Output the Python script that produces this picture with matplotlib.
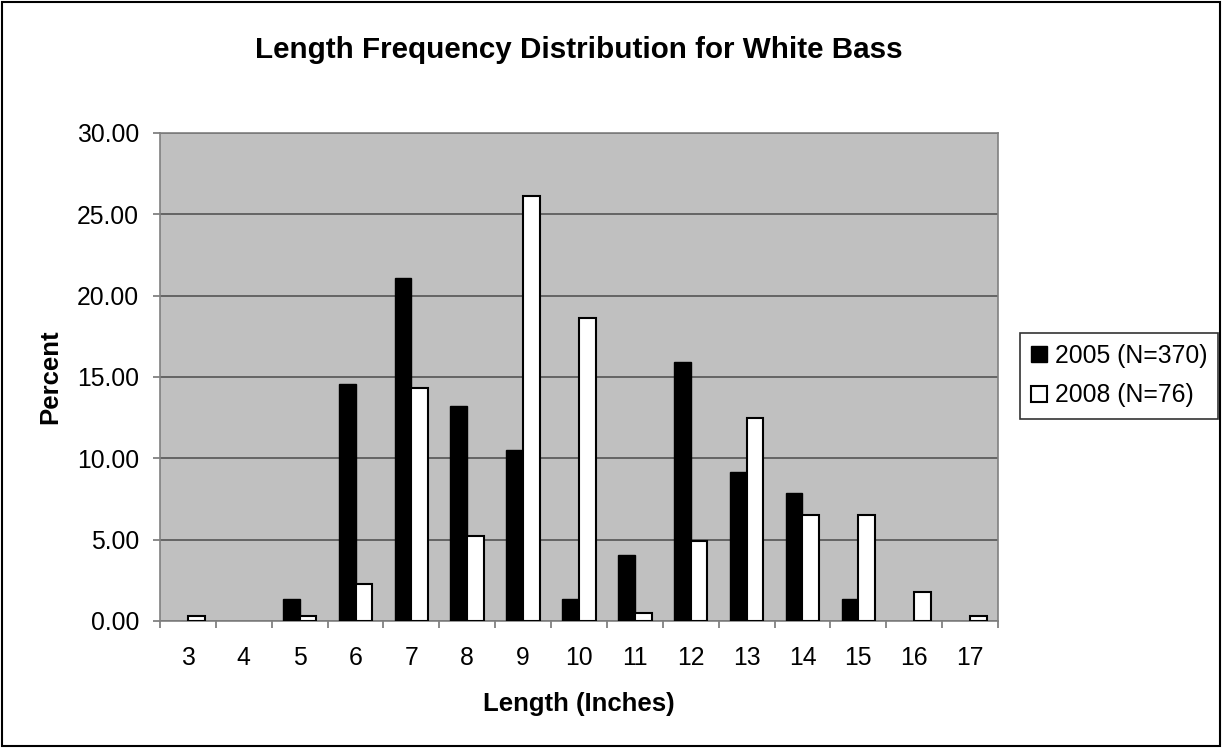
import numpy as np
import matplotlib
matplotlib.use("Agg")
import matplotlib.pyplot as plt
from matplotlib.patches import Rectangle

plt.rcParams['font.family'] = ['Liberation Sans', 'DejaVu Sans']

lengths = [3, 4, 5, 6, 7, 8, 9, 10, 11, 12, 13, 14, 15, 16, 17]
pct_2005 = [0.0, 0.0, 1.35, 14.59, 21.08, 13.24, 10.54, 1.35, 4.05, 15.95, 9.19, 7.84, 1.35, 0.0, 0.0]
pct_2008 = [0.3, 0.0, 0.3, 2.28, 14.3, 5.2, 26.1, 18.6, 0.5, 4.9, 12.5, 6.5, 6.5, 1.8, 0.3]
labels = ['2005 (N=370)', '2008 (N=76)']

fig = plt.figure(figsize=(12.22, 7.48), dpi=100)
ax = fig.add_axes([0.1309, 0.1698, 0.6858, 0.6524])

x = np.arange(len(lengths))
w = 0.30
a = np.array(pct_2005)
b = np.array(pct_2008)
# zero-height bars are not drawn (no stray edge line)
ax.bar(x[a > 0] - w / 2, a[a > 0], w, color='black', edgecolor='black', linewidth=1, label=labels[0], zorder=3)
ax.bar(x[b > 0] + w / 2, b[b > 0], w, color='white', edgecolor='black', linewidth=1.5, label=labels[1], zorder=3)

ax.set_facecolor('#C0C0C0')
ax.set_xlim(-0.5, len(lengths) - 0.5)
ax.set_ylim(0, 30)
ax.set_yticks(np.arange(0, 31, 5))
ax.set_yticklabels(['%.2f' % v for v in np.arange(0, 31, 5)])
ax.yaxis.grid(True, color='#555555', linewidth=1.2, zorder=0)
ax.set_axisbelow(True)

ax.set_xticks(x)
ax.set_xticklabels([str(v) for v in lengths])
ax.set_xticks(np.arange(-0.5, len(lengths), 1), minor=True)
ax.tick_params(axis='x', which='major', length=0, pad=18, labelsize=17.8)
ax.tick_params(axis='x', which='minor', length=5, width=1.2, color='#777777')
ax.tick_params(axis='y', length=5, width=1.2, color='#777777', labelsize=17.8, pad=10)

for s in ax.spines.values():
    s.set_color('#808080')
    s.set_linewidth(1.2)

ax.set_title('Length Frequency Distribution for White Bass', fontsize=21.3, fontweight='bold', pad=54)
ax.set_xlabel('Length (Inches)', fontsize=18.5, fontweight='bold')
ax.xaxis.label.set_va('baseline')
ax.xaxis.set_label_coords(0.5, -0.184)
ax.set_ylabel('Percent', fontsize=18.5, fontweight='bold')
ax.yaxis.set_label_coords(-0.116, 0.5)

leg = fig.legend(loc='upper left', bbox_to_anchor=(1020 / 1222, 1 - 333 / 748), fontsize=17.8,
                 frameon=True, fancybox=False, edgecolor='black', handlelength=0.65, handleheight=0.62,
                 handletextpad=0.3, borderpad=0.45, labelspacing=0.62, borderaxespad=0)
leg.get_frame().set_linewidth(1.2)

# outer chart border
fig.patches.append(Rectangle((0.002, 0.003), 0.996, 0.994, transform=fig.transFigure,
                             fill=False, edgecolor='black', linewidth=1.5))

fig.savefig('out.png', dpi=100)
